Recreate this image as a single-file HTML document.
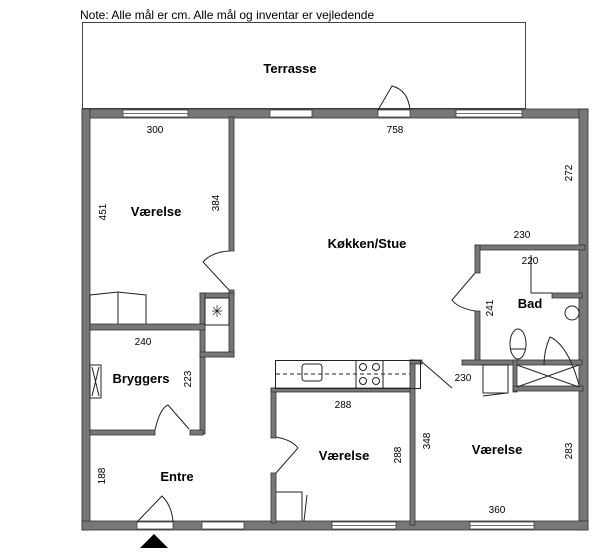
<!DOCTYPE html>
<html><head><style>body{margin:0;background:#fff}svg{display:block}text{font-family:"Liberation Sans",sans-serif}</style></head><body>
<svg width="600" height="558" viewBox="0 0 600 558" xmlns="http://www.w3.org/2000/svg">
<text x="80" y="19" font-size="12">Note: Alle mål er cm. Alle mål og inventar er vejledende</text>
<rect x="82.5" y="22.5" width="443" height="86" fill="none" stroke="#444" stroke-width="1"/>
<text x="290" y="73" font-size="13" font-weight="bold" text-anchor="middle">Terrasse</text>
<g fill="#777" stroke="#333" stroke-width="0.8">
<!-- outer walls -->
<rect x="82" y="109" width="506" height="9"/>
<rect x="82" y="109" width="8" height="421"/>
<rect x="579" y="109" width="9" height="421"/>
<rect x="82" y="521" width="506" height="9"/>
<!-- Værelse/Køkken wall -->
<rect x="229" y="117" width="5" height="134"/>
<rect x="229" y="290" width="5" height="8"/>
<rect x="200" y="293" width="34" height="5"/>
<rect x="200" y="293" width="5" height="141"/>
<rect x="229" y="293" width="5" height="64"/>
<rect x="200" y="352" width="34" height="5"/>
<rect x="90" y="324" width="115" height="6"/>
<rect x="90" y="430" width="65" height="5"/>
<rect x="190" y="430" width="13" height="5"/>
<!-- Værelse 2 -->
<rect x="271" y="388" width="5" height="50"/>
<rect x="271" y="473" width="5" height="50"/>
<rect x="271" y="388" width="142" height="4"/>
<rect x="410" y="360" width="5" height="165"/>
<rect x="410" y="360" width="12" height="4"/>
<!-- Bad -->
<rect x="475" y="245" width="110" height="5"/>
<rect x="475" y="245" width="5" height="28"/>
<rect x="475" y="311" width="5" height="54"/>
<rect x="462" y="360" width="120" height="5"/>
<rect x="513" y="360" width="4" height="32"/>
<rect x="513" y="386" width="70" height="5"/>
<rect x="552" y="293" width="30" height="5"/>
</g>
<!-- windows -->
<g fill="#fff" stroke="#444" stroke-width="0.8">
<rect x="123" y="110" width="65" height="7"/><line x1="123" y1="113.5" x2="188" y2="113.5"/>
<rect x="270" y="110" width="42" height="7"/>
<rect x="456" y="110" width="66" height="7"/><line x1="456" y1="113.5" x2="522" y2="113.5"/>
<rect x="378" y="110" width="32" height="7"/>
<rect x="202" y="522" width="42" height="7"/>
<rect x="332" y="522" width="40" height="7"/>
<rect x="260" y="522" width="16" height="0" />
<rect x="335" y="522" width="38" height="7"/>
<rect x="470" y="522" width="64" height="7"/><line x1="470" y1="525.5" x2="534" y2="525.5"/>
<rect x="137" y="522" width="36" height="7"/>
</g>
<g fill="#fff" stroke="#444" stroke-width="0.8">
<rect x="332" y="522" width="64" height="7"/><line x1="332" y1="525.5" x2="396" y2="525.5"/>
</g>
<!-- doors -->
<g fill="none" stroke="#222" stroke-width="1">
<path d="M378 110 L392 86 Q408 90 410 110"/>
<path d="M229 290 L203 262 Q212 252 229 251"/>
<path d="M137 522 L162 496 Q172 506 173 522"/>
<path d="M155 430 Q160 408 168 405 L189 429"/>
<path d="M276 437 Q292 440 298 448 L276 473"/>
<path d="M475 311 Q458 308 452 300 L475 273"/>
<path d="M422 362 L452 388"/>
<path d="M579 385 Q568 345 550 337 Q544 350 544 365"/>
<!-- wardrobe -->
<path d="M90 324 V295 L118 292 L146 295 V324 M118 292 V324"/>
<rect x="90" y="365" width="11" height="33" fill="#fff"/>
<path d="M92 367 L99 396 M99 367 L92 396"/>
<rect x="205" y="298" width="24" height="27"/>
<path d="M212 311 H222 M217 305 V317 M213 307 L221 315 M221 307 L213 315" stroke-width="0.7"/>
<!-- kitchen -->
<rect x="275.5" y="360.5" width="145" height="28"/>
<path d="M276 374 H410" stroke-dasharray="4 3"/>
<rect x="302" y="364" width="20" height="17" rx="3"/>
<line x1="356" y1="360" x2="356" y2="388"/><line x1="383" y1="360" x2="383" y2="388"/>
<circle cx="363" cy="367" r="3.5"/><circle cx="376" cy="367" r="3.5"/><circle cx="363" cy="381" r="3.5"/><circle cx="376" cy="381" r="3.5"/>
<!-- bath -->
<path d="M531 255 V293 H552"/>
<ellipse cx="518" cy="344" rx="8" ry="15"/><line x1="510" y1="349" x2="526" y2="349"/>
<circle cx="572" cy="313" r="7"/>
<rect x="483" y="365" width="25" height="28"/>
<path d="M483 396 L507 393"/>
<path d="M517 365 L579 387 M517 387 L579 365"/>
<!-- værelse 2 furniture -->
<path d="M276 492 H302 V521 M304 521 L307 495"/>
</g>
<polygon points="140,548 168,548 154,534" fill="#000"/>
<g font-size="13" font-weight="bold" text-anchor="middle">
<text x="156" y="216">Værelse</text>
<text x="367" y="248">Køkken/Stue</text>
<text x="530" y="308">Bad</text>
<text x="141" y="383">Bryggers</text>
<text x="177" y="481">Entre</text>
<text x="344" y="460">Værelse</text>
<text x="497" y="454">Værelse</text>
</g>
<g font-size="10" text-anchor="middle">
<text x="155" y="133">300</text>
<text x="395" y="133">758</text>
<text x="143" y="345">240</text>
<text x="522" y="238">230</text>
<text x="530" y="264">220</text>
<text x="463" y="381">230</text>
<text x="343" y="408">288</text>
<text x="497" y="513">360</text>
<text transform="translate(106 212) rotate(-90)">451</text>
<text transform="translate(219 203) rotate(-90)">384</text>
<text transform="translate(572 173) rotate(-90)">272</text>
<text transform="translate(493 308) rotate(-90)">241</text>
<text transform="translate(191 379) rotate(-90)">223</text>
<text transform="translate(105 476) rotate(-90)">188</text>
<text transform="translate(401 455) rotate(-90)">288</text>
<text transform="translate(430 441) rotate(-90)">348</text>
<text transform="translate(572 451) rotate(-90)">283</text>
</g>
</svg>
</body></html>
